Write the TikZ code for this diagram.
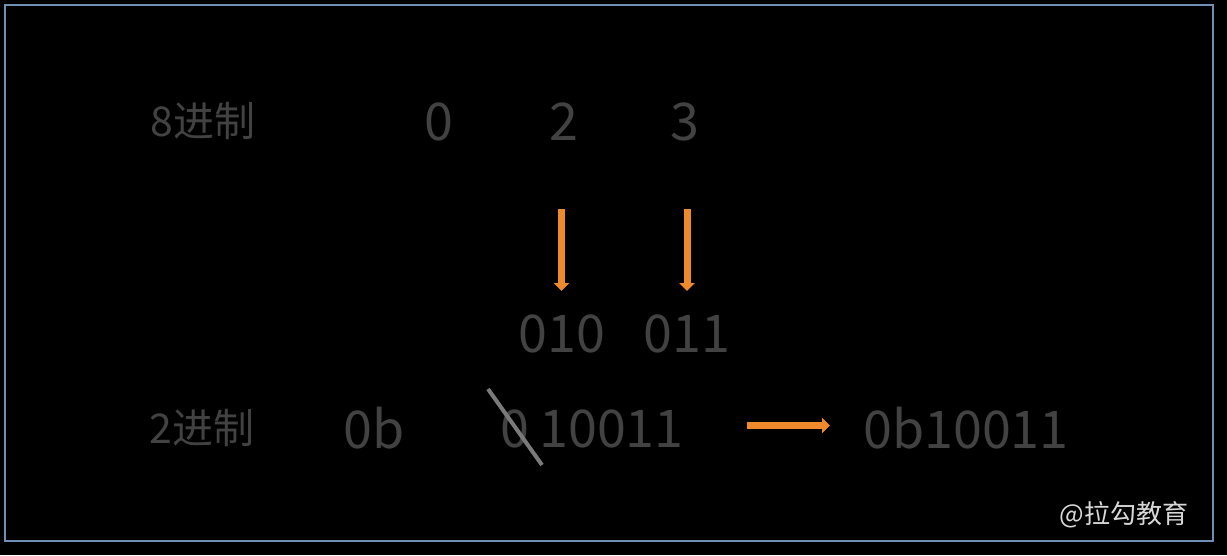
\documentclass[tikz,border=0pt]{standalone}
\usepackage{fontspec}
\setmainfont{Noto Sans CJK SC}
\usetikzlibrary{arrows.meta}
\definecolor{txtgrey}{HTML}{424242}
\definecolor{wmgrey}{HTML}{D8D8D8}
\definecolor{arrorange}{HTML}{EE8A2C}
\definecolor{framecol}{HTML}{6F8FB4}
\definecolor{strikegrey}{HTML}{7A7A7A}
\tikzset{
  lbl/.style={inner sep=0pt, text=txtgrey, font=\fontsize{41}{45}\selectfont},
  num/.style={inner sep=0pt, text=txtgrey, font=\fontsize{52}{57}\selectfont},
  wm/.style={inner sep=0pt, text=wmgrey, font=\fontsize{26}{30}\selectfont},
  orarrow/.style={draw=arrorange, line width=7pt, -{Triangle[length=8pt,width=15pt]}, arrorange},
}
\begin{document}
\begin{tikzpicture}[x=1pt,y=-1pt]
\useasboundingbox (0,0) rectangle (1227,555);
\fill[black] (0,0) rectangle (1227,555);
\draw[framecol, line width=2pt] (5,5) rectangle (1213,541);

\node[lbl] (l8) at (203,121) {8进制};
\node[num] (o0) at (439,122) {0};
\node[num] (o2) at (564,122) {2};
\node[num] (o3) at (685,122) {3};

\node[num] (b1) at (562,334) {010};
\node[num] (b2) at (687,334) {011};

\node[lbl] (l2) at (202,428) {2进制};
\node[num] (p0b) at (374,428) {0b};
\node[num] (z0) at (515,428.5) {0};
\node[num] (rest) at (611.5,428.5) {10011};
\node[num] (res) at (966,428) {0b10011};

\node[wm] (wmk) at (1124,515) {@拉勾教育};

\coordinate (a1s) at (561.5,209);
\coordinate (a1e) at (561.5,291);
\coordinate (a2s) at (687,209);
\coordinate (a2e) at (687,291);
\coordinate (a3s) at (747,425.5);
\coordinate (a3e) at (830,425.5);
\draw[orarrow] (a1s) -- (a1e);
\draw[orarrow] (a2s) -- (a2e);
\draw[orarrow] (a3s) -- (a3e);

\coordinate (st1) at (488,389);
\coordinate (st2) at (542,465);
\draw[strikegrey, line width=4pt] (st1) -- (st2);
\end{tikzpicture}
\end{document}
